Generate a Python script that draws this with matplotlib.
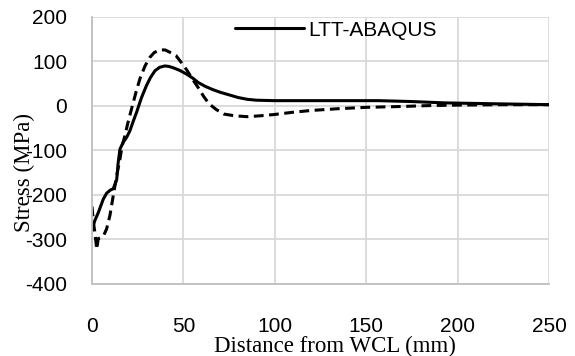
"""Residual stress vs. distance from WCL: LTT-ABAQUS (solid) and the dashed reference curve."""
import matplotlib
matplotlib.use("Agg")
import matplotlib.pyplot as plt

# LTT-ABAQUS (solid)
x_ltt = [0, 1.5, 3.5, 6.2, 8, 10, 11.6, 13.5, 14.3, 15.3, 17, 19, 20.7, 22.5, 24.4,
         27, 29.8, 32, 34.4, 37, 39.8, 42, 44.4, 48, 51.6, 55, 58, 62, 66, 70, 75,
         80, 85, 90, 100, 120, 157, 175, 193, 220, 250]
y_ltt = [-278, -258, -239, -209, -196, -189, -186, -166, -128, -97, -82, -70, -56, -35, -14,
         18, 46, 64, 79, 87, 90, 89, 86, 80, 72, 63, 53, 44, 37, 31, 25,
         19, 15, 13, 12, 12, 12, 10, 7, 5, 3]

# second curve (dashed, no legend entry)
x_dash = [0, 0.8, 1.6, 2.6, 3.4, 5, 6.5, 8, 9.8, 11.6, 13.5, 15.3, 16.5, 18, 19.5,
          21.6, 24, 26.2, 29, 31.6, 34, 37, 40, 42, 46, 49, 52, 55, 58, 61, 64,
          68, 72, 78, 85, 92, 100, 110, 120, 135, 150, 170, 185, 200, 225, 250]
y_dash = [-226, -262, -285, -322, -298, -296, -290, -276, -246, -202, -157, -119, -89, -67, -40,
          -7, 30, 61, 90, 109, 120, 126, 126, 122, 113, 97, 80, 60, 42, 22, 5,
          -8, -18, -22, -24, -22, -19, -14, -10, -6, -3, -1, 1, 2, 3, 3]

x_ticks = [0, 50, 100, 150, 200, 250]
y_ticks = [-400, -300, -200, -100, 0, 100, 200]

sans = ["Liberation Sans", "DejaVu Sans"]
serif = ["Liberation Serif", "DejaVu Serif"]

fig = plt.figure(figsize=(5.75, 3.56), dpi=100)
ax = fig.add_axes([92 / 575, 1 - 284 / 356, (549 - 92) / 575, (284 - 17) / 356])

ax.plot(x_ltt, y_ltt, color="black", lw=2.2, label="LTT-ABAQUS", solid_capstyle="round")
ax.plot(x_dash, y_dash, color="black", lw=2.2, ls=(0, (3.2, 1.8)))

ax.set_xlim(0, 250)
ax.set_ylim(-400, 200)
ax.set_xticks(x_ticks)
ax.set_yticks(y_ticks)
ax.set_xticklabels([str(v) for v in x_ticks], family=sans, fontsize=15)
ax.set_yticklabels([str(v) for v in y_ticks], family=sans, fontsize=15)
ax.tick_params(axis="both", length=0)
ax.tick_params(axis="x", pad=24)
ax.tick_params(axis="y", pad=18)

ax.grid(True, color="#d9d9d9", lw=1.3)
ax.set_axisbelow(True)
for s in ["top", "right"]:
    ax.spines[s].set_visible(False)
for s in ["left", "bottom"]:
    ax.spines[s].set_color("#bfbfbf")
    ax.spines[s].set_linewidth(1.3)

fig.text(335 / 575, 3.5 / 356, "Distance from WCL (mm)", family=serif, fontsize=16.5,
         ha="center", va="baseline")
fig.text(24 / 575, 1 - 172 / 356, "Stress (MPa)", family=serif, fontsize=16.5,
         ha="center", va="center", rotation=90)

ax.legend(loc="center left", bbox_to_anchor=(235 / 575, 1 - 30 / 356),
          bbox_transform=fig.transFigure, frameon=False, borderpad=0,
          borderaxespad=0, handlelength=3.3, handletextpad=0.2,
          prop={"family": sans, "size": 15})

fig.savefig("out.png", dpi=100)
